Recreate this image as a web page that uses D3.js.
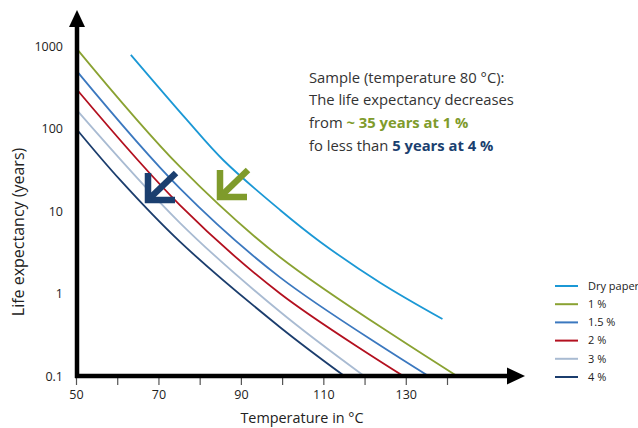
<!DOCTYPE html>
<html>
<head>
<meta charset="utf-8">
<script src="https://cdn.jsdelivr.net/npm/d3@7"></script>
<style>
body { margin: 0; background: #fff; }
svg { font-family: "Open Sans", "Noto Sans", sans-serif; }
</style>
</head>
<body>
<svg id="chart"></svg>
<script>
// values (temperature in °C, life expectancy in years)
const seriesNames = ["Dry paper", "1 %", "1.5 %", "2 %", "3 %", "4 %"];
const seriesColors = ["#1b98d5", "#8aa232", "#3b78bf", "#b3101f", "#a9bbd2", "#1b3d6d"];
const dryTemp = [63.3, 76.9, 85.7, 99.5, 109.2, 123.8, 138.9];
const dryLife = [780, 127, 41.5, 10.3, 4.25, 1.35, 0.49];
const oneTemp = [50, 75.2, 99.5, 142.4];
const oneLife = [950, 34.4, 2.75, 0.1];
const oneHalfTemp = [50, 75.2, 99.5, 135.5];
const oneHalfLife = [510, 18.8, 1.57, 0.1];
const twoTemp = [50, 75.2, 99.5, 129.4];
const twoLife = [305, 11.8, 1.0, 0.1];
const threeTemp = [50, 75.2, 99.5, 119.9];
const threeLife = [172, 7.2, 0.6, 0.1];
const fourTemp = [50, 60.7, 75.2, 99.5, 115.1];
const fourLife = [100, 23.8, 4.25, 0.39, 0.1];
const xTicks = [50, 60, 70, 80, 90, 100, 110, 120, 130, 140];
const xLabels = [50, 70, 90, 110, 130];
const yTicks = [0.1, 1, 10, 100, 1000];

const temps = [dryTemp, oneTemp, oneHalfTemp, twoTemp, threeTemp, fourTemp];
const lifes = [dryLife, oneLife, oneHalfLife, twoLife, threeLife, fourLife];
const series = seriesNames.map((name, i) => ({
  name: name,
  color: seriesColors[i],
  points: temps[i].map((t, j) => ({t: t, v: lifes[i][j]}))
}));

const svg = d3.select("#chart")
  .attr("width", 638)
  .attr("height", 428);

const x = d3.scaleLinear().domain([50, 140]).range([76, 447]);
const y = d3.scaleLog().domain([0.1, 1000]).range([376, 46]);

// x ticks and labels
const xAxis = svg.append("g")
  .attr("transform", "translate(0,376)")
  .call(d3.axisBottom(x).tickValues(xTicks).tickSize(9)
    .tickFormat(d => xLabels.includes(d) ? d : ""));
xAxis.select(".domain").remove();
xAxis.selectAll(".tick line").attr("stroke", "#555").attr("stroke-width", 1.2);
xAxis.selectAll(".tick text")
  .attr("dy", "0.2em")
  .attr("y", 20)
  .style("font-family", "'Open Sans', sans-serif")
  .style("font-size", "12.5px")
  .attr("fill", "#222");

// y labels
const yAxis = svg.append("g")
  .attr("transform", "translate(63,0)")
  .call(d3.axisLeft(y).tickValues(yTicks).tickSize(0)
    .tickFormat(d => d < 1 ? "0.1" : d3.format("d")(d)));
yAxis.select(".domain").remove();
yAxis.selectAll(".tick text")
  .attr("x", 0)
  .style("font-family", "'Open Sans', sans-serif")
  .style("font-size", "12.5px")
  .attr("fill", "#222");

// curves
const line = d3.line()
  .x(d => x(d.t))
  .y(d => y(d.v))
  .curve(d3.curveCatmullRom.alpha(0.5));

svg.append("g").selectAll("path")
  .data(series)
  .enter()
  .append("path")
  .attr("d", d => line(d.points))
  .attr("fill", "none")
  .attr("stroke", d => d.color)
  .attr("stroke-width", 1.8);

// axis lines with arrow heads
svg.append("line")
  .attr("x1", 77).attr("y1", 378)
  .attr("x2", 77).attr("y2", 24)
  .attr("stroke", "#000").attr("stroke-width", 4.5);
svg.append("path")
  .attr("d", "M69,27 L77,10 L85,27 Z")
  .attr("fill", "#000");
svg.append("line")
  .attr("x1", 75).attr("y1", 376)
  .attr("x2", 510).attr("y2", 376)
  .attr("stroke", "#000").attr("stroke-width", 4.5);
svg.append("path")
  .attr("d", "M507,367.5 L525,376 L507,384.5 Z")
  .attr("fill", "#000");

// axis titles
svg.append("text")
  .attr("x", 302)
  .attr("y", 423)
  .attr("text-anchor", "middle")
  .style("font-size", "14.4px")
  .attr("fill", "#222")
  .text("Temperature in °C");
svg.append("text")
  .attr("transform", "translate(24,232) rotate(-90)")
  .attr("text-anchor", "middle")
  .style("font-size", "16px")
  .attr("fill", "#222")
  .text("Life expectancy (years)");

// arrows
const arrows = [
  {cx: 148, cy: 200, color: "#1b3f6f"},
  {cx: 220, cy: 197, color: "#7f9b2b"}
];
arrows.forEach(a => {
  svg.append("path")
    .attr("d", `M${a.cx},${a.cy - 27} L${a.cx},${a.cy} L${a.cx + 27},${a.cy}`)
    .attr("fill", "none")
    .attr("stroke", a.color)
    .attr("stroke-width", 6.5)
    .attr("stroke-linejoin", "miter");
  svg.append("line")
    .attr("x1", a.cx + 2).attr("y1", a.cy - 2)
    .attr("x2", a.cx + 28).attr("y2", a.cy - 27)
    .attr("stroke", a.color)
    .attr("stroke-width", 6.5);
});

// annotation
const note = svg.append("text")
  .style("font-size", "14.8px")
  .attr("fill", "#333");
note.append("tspan").attr("x", 309).attr("y", 83).text("Sample (temperature 80 °C):");
note.append("tspan").attr("x", 309).attr("y", 105).text("The life expectancy decreases");
const l3 = note.append("tspan").attr("x", 309).attr("y", 128);
l3.append("tspan").text("from ");
l3.append("tspan").attr("fill", "#7f9b2b").style("font-weight", "bold").text("~ 35 years at 1 %");
const l4 = note.append("tspan").attr("x", 309).attr("y", 151);
l4.append("tspan").text("fo less than ");
l4.append("tspan").attr("fill", "#1b3f6f").style("font-weight", "bold").text("5 years at 4 %");

// legend
const legend = svg.append("g").selectAll("g")
  .data(series)
  .enter()
  .append("g")
  .attr("transform", (d, i) => `translate(555,${286 + i * 18.2})`);
legend.append("line")
  .attr("x1", 0).attr("x2", 23)
  .attr("stroke", d => d.color)
  .attr("stroke-width", 2);
legend.append("text")
  .attr("x", 33)
  .attr("dy", "0.35em")
  .style("font-size", "11px")
  .attr("fill", "#222")
  .text(d => d.name);
</script>
</body>
</html>
